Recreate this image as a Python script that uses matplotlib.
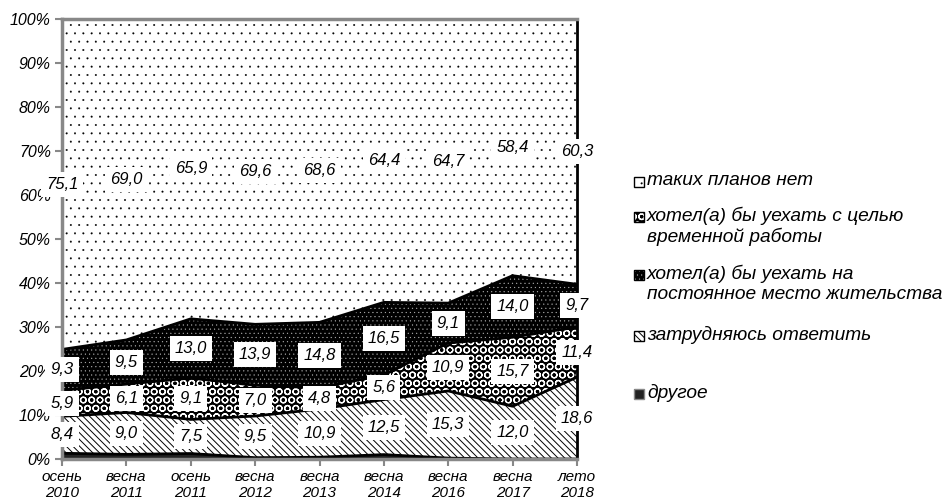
import matplotlib
matplotlib.use('Agg')
from matplotlib import pyplot as plt
from matplotlib.patches import Rectangle
import numpy as np

plt.rcParams['font.family'] = ['Liberation Sans', 'DejaVu Sans']

# подписи по оси X
periods = ['осень\n2010', 'весна\n2011', 'осень\n2011', 'весна\n2012', 'весна\n2013',
           'весна\n2014', 'весна\n2016', 'весна\n2017', 'лето\n2018']

# значения рядов, %
drugoe = [1.3, 1.0, 1.2, 0.3, 0.4, 1.0, 0.2, 0.0, 0.0]
zatrudn = [8.4, 9.0, 7.5, 9.5, 10.9, 12.5, 15.3, 12.0, 18.6]
vremen = [5.9, 6.1, 9.1, 7.0, 4.8, 5.6, 10.9, 15.7, 11.4]
pmzh = [9.3, 9.5, 13.0, 13.9, 14.8, 16.5, 9.1, 14.0, 9.7]
net = [75.1, 69.0, 65.9, 69.6, 68.6, 64.4, 64.7, 58.4, 60.3]

series = [drugoe, zatrudn, vremen, pmzh, net]
names = ['другое', 'затрудняюсь ответить',
         'хотел(а) бы уехать с целью\nвременной работы',
         'хотел(а) бы уехать на\nпостоянное место жительства',
         'таких планов нет']
# (заливка, штриховка, цвет штриховки, толщина штриховки)
styles = [('#222222', None, '#222222', 1.0),
          ('white', '\\\\\\\\\\', 'black', 0.7),
          ('black', 'OO', 'white', 0.9),
          ('black', '....', '#b0b0b0', 0.3),
          ('white', '..', 'black', 0.2)]

data = np.array(series, dtype=float)
data = data / data.sum(axis=0) * 100  # 100% области
x = np.arange(len(periods))

fig = plt.figure(figsize=(9.48, 5.0), dpi=100)
ax = fig.add_axes([62 / 948, 1 - 459 / 500, (577 - 62) / 948, (459 - 19) / 500])

bottom = np.zeros(len(x))
for vals, (fc, hatch, hc, hlw) in zip(data, styles):
    top = bottom + vals
    with plt.rc_context({'hatch.linewidth': hlw}):
        ax.fill_between(x, bottom, top, facecolor=fc, hatch=hatch, edgecolor=hc,
                        linewidth=0)
    bottom = top

# линии границ
cum = np.cumsum(data, axis=0)
for row in cum[:-1]:
    ax.plot(x, row, color='black', linewidth=2)

# подписи данных
lower = np.vstack([np.zeros(len(x)), cum[:-1]])
for i in range(1, len(series)):
    for j in range(len(x)):
        yc = (lower[i][j] + cum[i][j]) / 2
        txt = ('%.1f' % series[i][j]).replace('.', ',')
        ax.text(x[j], yc, txt, ha='center', va='center', fontsize=12,
                style='italic', clip_on=False, zorder=2.3,
                bbox=dict(boxstyle='square,pad=0.3', fc='white', ec='none'))

ax.set_xlim(0, len(x) - 1)
ax.set_ylim(0, 100)
ax.set_yticks(np.arange(0, 101, 10))
ax.set_yticklabels(['%d%%' % v for v in range(0, 101, 10)], fontsize=11.5, style='italic')
ax.set_xticks(x)
ax.set_xticklabels(periods, fontsize=11, style='italic', linespacing=1.15)
ax.tick_params(axis='both', color='#888888', length=5, width=1.5, pad=3)
for s in ['left', 'top', 'bottom']:
    ax.spines[s].set_color('#888888')
    ax.spines[s].set_linewidth(2.5)
ax.spines['right'].set_color('black')
ax.spines['right'].set_linewidth(2)
for s in ax.spines.values():
    s.set_zorder(2.1)

# легенда
leg_items = [(4, 182), (2, 217), (3, 275), (1, 336), (0, 394)]
for idx, ypix in leg_items:
    fc, hatch, hc, hlw = styles[idx]
    yf = 1 - ypix / 500
    with plt.rc_context({'hatch.linewidth': hlw}):
        fig.patches.append(Rectangle((634 / 948, yf - 5 / 500), 10 / 948, 10 / 500,
                                     transform=fig.transFigure, facecolor=fc,
                                     hatch=hatch, edgecolor=hc, linewidth=0))
    fig.patches.append(Rectangle((634 / 948, yf - 5 / 500), 10 / 948, 10 / 500,
                                 transform=fig.transFigure, facecolor='none',
                                 edgecolor='black' if idx != 0 else '#888888',
                                 linewidth=1))
    fig.text(647 / 948, yf + 10 / 500, names[idx], ha='left', va='top',
             fontsize=13.8, style='italic', linespacing=1.2)

fig.savefig('out.png', dpi=100)
